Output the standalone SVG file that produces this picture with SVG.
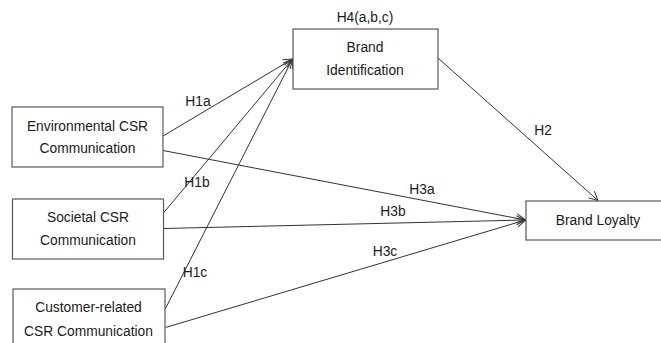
<svg xmlns="http://www.w3.org/2000/svg" width="661" height="343" viewBox="0 0 661 343">
<style>
.box{fill:#fff;stroke:#595959;stroke-width:1.2}
.t{font-family:"Liberation Sans",Arial,sans-serif;font-size:13.8px;fill:#1a1a1a;text-anchor:middle}
.c{stroke:#333;stroke-width:1;fill:none;marker-end:url(#ah)}
</style>
<defs>
<marker id="ah" markerUnits="userSpaceOnUse" markerWidth="12" markerHeight="12" viewBox="-10 -6 12 12" refX="0" refY="0" orient="auto">
<path d="M-9,-4.5 L0,0 L-9,4.5" fill="none" stroke="#333" stroke-width="1"/>
</marker>
</defs>
<rect width="661" height="343" fill="#fff"/>
<g id="connectors">
<line class="c" x1="163" y1="136" x2="292.5" y2="59"/>
<line class="c" x1="163" y1="213.5" x2="292.5" y2="59"/>
<line class="c" x1="165" y1="309.5" x2="292.5" y2="59"/>
<line class="c" x1="438" y1="58" x2="598" y2="200.5"/>
<line class="c" x1="163" y1="150.5" x2="525.5" y2="220"/>
<line class="c" x1="163.5" y1="228.5" x2="525.5" y2="220"/>
<line class="c" x1="165.5" y1="327.5" x2="525.5" y2="220"/>
<text class="t" x="198" y="106">H1a</text>
<text class="t" x="197" y="187">H1b</text>
<text class="t" x="195" y="277">H1c</text>
<text class="t" x="543" y="134.5">H2</text>
<text class="t" x="422" y="193.5">H3a</text>
<text class="t" x="393" y="216">H3b</text>
<text class="t" x="385" y="255.5">H3c</text>
</g>
<g id="brand-identification">
<rect class="box" x="293" y="29" width="145" height="60"/>
<text class="t" x="365" y="21.5">H4(a,b,c)</text>
<text class="t" x="365" y="51.5">Brand</text>
<text class="t" x="365" y="74.5">Identification</text>
</g>
<g id="environmental">
<rect class="box" x="12" y="107" width="151" height="60"/>
<text class="t" x="87.5" y="130.5">Environmental CSR</text>
<text class="t" x="87.5" y="153">Communication</text>
</g>
<g id="societal">
<rect class="box" x="12.5" y="199" width="151" height="60"/>
<text class="t" x="88" y="221.5">Societal CSR</text>
<text class="t" x="88" y="244.5">Communication</text>
</g>
<g id="customer">
<rect class="box" x="13" y="289" width="152" height="60"/>
<text class="t" x="88.5" y="312">Customer-related</text>
<text class="t" x="88.5" y="335.5">CSR Communication</text>
</g>
<g id="brand-loyalty">
<rect class="box" x="526" y="201" width="140" height="39"/>
<text class="t" x="598" y="224.5">Brand Loyalty</text>
</g>
</svg>
